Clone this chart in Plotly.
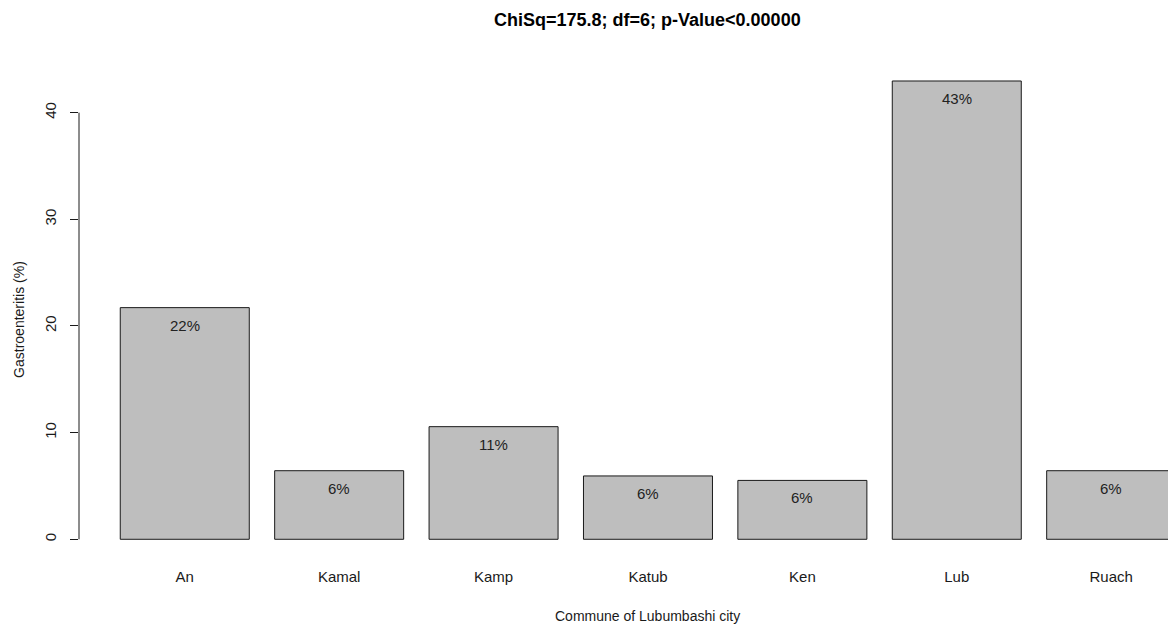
import plotly.graph_objects as go

# Share of gastroenteritis cases by commune (%)
communes = ["An", "Kamal", "Kamp", "Katub", "Ken", "Lub", "Ruach"]
percent = [21.72, 6.43, 10.56, 5.94, 5.52, 42.97, 6.43]
y_ticks = [0, 10, 20, 30, 40]

title_text = "ChiSq=175.8; df=6; p-Value<0.00000"
x_title = "Commune of Lubumbashi city"
y_title = "Gastroenteritis (%)"

FONT = "Liberation Sans Narrow, Arial Narrow, Liberation Sans, Arial, sans-serif"
INK = "#1a1a1a"
SIZE = 14

fig = go.Figure(
    go.Bar(
        x=communes,
        y=percent,
        marker=dict(color="#BEBEBE", line=dict(color="#1a1a1a", width=1)),
        hoverinfo="x+y",
    )
)

# value labels just inside the top of each bar
for name, v in zip(communes, percent):
    fig.add_annotation(
        x=name, y=v, xref="x", yref="y",
        text=f"{v:.0f}%", showarrow=False,
        yanchor="middle", yshift=-17.5,
        font=dict(family=FONT, size=SIZE + 1, color="#222222"),
    )

# title and axis titles
fig.add_annotation(
    x=3, xref="x", y=1, yref="paper", yanchor="middle", yshift=42,
    text=f"<b>{title_text}</b>", showarrow=False,
    font=dict(family=FONT, size=18, color="#000000"),
)
fig.add_annotation(
    x=3, xref="x", y=0, yref="paper", yanchor="middle", yshift=-59,
    text=x_title, showarrow=False,
    font=dict(family=FONT, size=SIZE, color=INK),
)
fig.add_annotation(
    x=0, xref="paper", xanchor="center", xshift=-60,
    y=0.479, yref="paper", yanchor="middle",
    text=y_title, textangle=-90, showarrow=False,
    font=dict(family=FONT, size=SIZE, color=INK),
)

# y axis line spanning only the tick range
fig.add_shape(
    type="line", xref="paper", yref="y",
    x0=0, x1=0, y0=y_ticks[0], y1=y_ticks[-1],
    line=dict(color=INK, width=1),
)

fig.update_layout(
    width=1168, height=628,
    margin=dict(l=79, r=0, t=62, b=71),
    paper_bgcolor="white", plot_bgcolor="white",
    bargap=0.1645,
    showlegend=False,
    font=dict(family=FONT, size=SIZE, color=INK),
)
fig.update_xaxes(
    range=[-0.685, 6.368],
    showline=False, showgrid=False, zeroline=False,
    ticks="outside", ticklen=0, ticklabelstandoff=6,
    tickfont=dict(family=FONT, size=SIZE + 1, color=INK),
)
fig.update_yaxes(
    range=[-1.66, 44.75],
    tickvals=y_ticks,
    showline=False, showgrid=False, zeroline=False,
    ticks="outside", ticklen=8, tickcolor=INK, tickwidth=1,
    tickangle=-90, ticklabelstandoff=8,
    tickfont=dict(family=FONT, size=SIZE + 1, color=INK),
)

fig.write_html("out.html")
